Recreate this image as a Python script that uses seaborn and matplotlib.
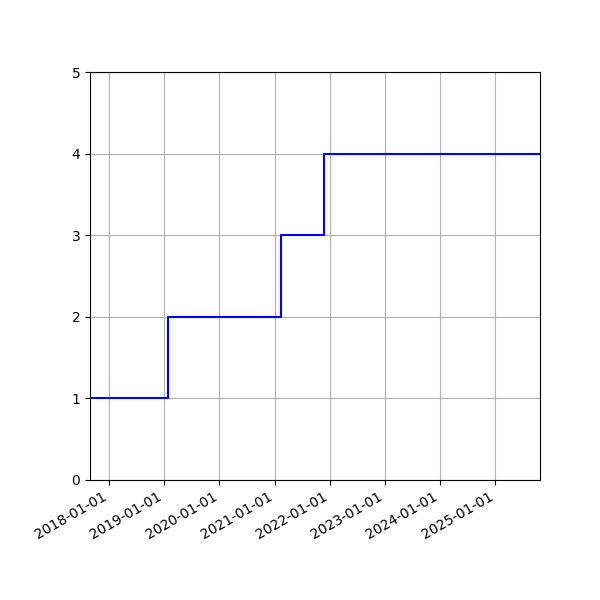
import pandas as pd
import matplotlib
matplotlib.use("Agg")
import matplotlib.pyplot as plt
import matplotlib.dates as mdates
import seaborn as sns

fechas = ["2017-08-28", "2019-01-29", "2021-02-10", "2021-11-24", "2025-10-24"]
valores = [1, 2, 3, 4, 4]

df = pd.DataFrame({"fecha": pd.to_datetime(fechas), "valor": valores})

fig, ax = plt.subplots(figsize=(6, 6), dpi=100)
sns.lineplot(data=df, x="fecha", y="valor", ax=ax, color="blue",
             drawstyle="steps-post", estimator=None, linewidth=1.5)

ax.set_xlim(df["fecha"].min(), df["fecha"].max())
ax.set_ylim(0, 5)
ax.xaxis.set_major_locator(mdates.YearLocator())
ax.xaxis.set_major_formatter(mdates.DateFormatter("%Y-%m-%d"))
ax.set_xlabel("")
ax.set_ylabel("")
ax.grid(True)
fig.autofmt_xdate()
fig.subplots_adjust(left=0.15, right=0.9, top=0.88, bottom=0.2)
fig.savefig("out.png")
